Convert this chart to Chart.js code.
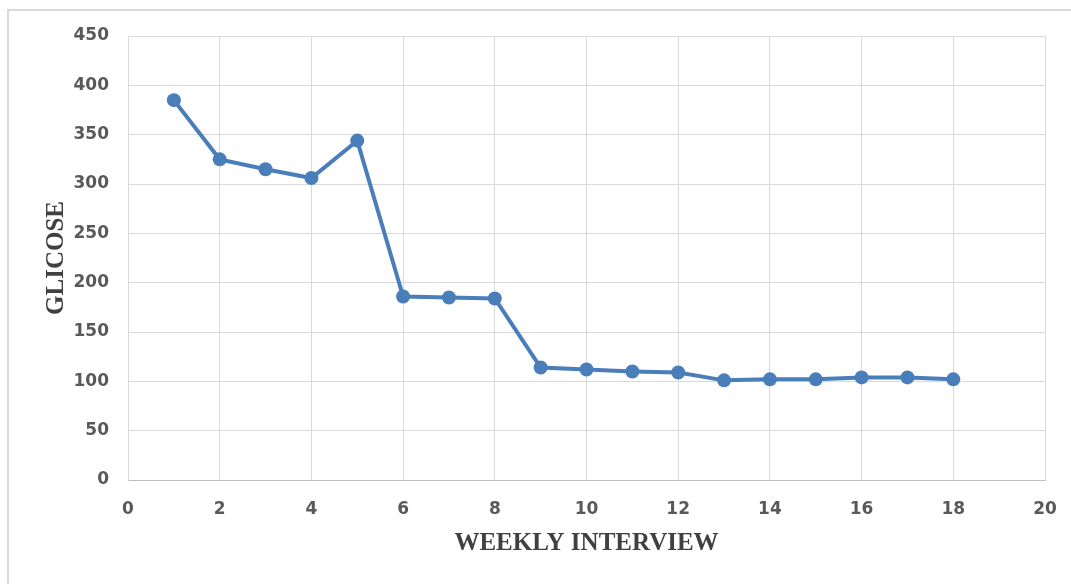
<!DOCTYPE html>
<html>
<head>
    <meta charset="utf-8">
    <title>Glicose by weekly interview</title>
    <script src="https://cdn.jsdelivr.net/npm/chart.js"></script>
    <style>
        html, body { margin: 0; padding: 0; background: #fff; }
        .wrap { position: relative; width: 1071px; height: 584px; }
        .frame {
            position: absolute; left: 7px; top: 9px; right: -5px; bottom: -5px;
            border-top: 2px solid #d9d9d9; border-left: 2px solid #d9d9d9;
        }
        canvas { position: absolute; left: 0; top: 0; }
    </style>
</head>
<body>
    <div class="wrap">
        <div class="frame"></div>
        <canvas id="glicoseChart" width="1071" height="584"></canvas>
    </div>
    <script>
        // weekly interview number and glicose reading
        const weeks = [1, 2, 3, 4, 5, 6, 7, 8, 9, 10, 11, 12, 13, 14, 15, 16, 17, 18];
        const glicose = [385, 325, 315, 306, 344, 186, 185, 184, 114, 112, 110, 109, 101, 102, 102, 104, 104, 102];
        const xTicks = [0, 2, 4, 6, 8, 10, 12, 14, 16, 18, 20];
        const yTicks = [0, 50, 100, 150, 200, 250, 300, 350, 400, 450];

        const points = weeks.map((w, i) => ({ x: w, y: glicose[i] }));
        const tickFont = { family: 'DejaVu Sans', size: 17, weight: 'bold' };
        const titleFont = { family: 'Liberation Serif', size: 25, weight: 'bold' };

        new Chart(document.getElementById('glicoseChart'), {
            type: 'line',
            data: {
                datasets: [{
                    data: points,
                    borderColor: '#4a7ebb',
                    backgroundColor: '#4a7ebb',
                    borderWidth: 4,
                    pointRadius: 7,
                    pointBorderWidth: 0,
                    tension: 0
                }]
            },
            options: {
                responsive: false,
                animation: false,
                layout: { padding: { top: 36, right: 26, left: 0, bottom: 0 } },
                plugins: { legend: { display: false }, tooltip: { enabled: false } },
                scales: {
                    x: {
                        type: 'linear',
                        min: 0,
                        max: 20,
                        afterBuildTicks: s => { s.ticks = xTicks.map(v => ({ value: v })); },
                        afterFit: s => { s.height = 104; s.paddingLeft = 0; s.paddingRight = 0; },
                        grid: { color: '#d9d9d9', lineWidth: 1, drawTicks: false },
                        border: { color: '#bfbfbf', width: 1 },
                        ticks: { color: '#595959', font: tickFont, padding: 19 },
                        title: {
                            display: true, text: 'WEEKLY INTERVIEW', color: '#404040',
                            font: titleFont, padding: { top: 0, bottom: 25 }
                        }
                    },
                    y: {
                        min: 0,
                        max: 450,
                        afterBuildTicks: s => { s.ticks = yTicks.map(v => ({ value: v })); },
                        afterFit: s => { s.width = 128; s.paddingTop = 0; s.paddingBottom = 0; },
                        grid: { color: '#d9d9d9', lineWidth: 1, drawTicks: false },
                        border: { color: '#d9d9d9', width: 1 },
                        ticks: { color: '#595959', font: tickFont, padding: 19 },
                        title: {
                            display: true, text: 'GLICOSE', color: '#404040',
                            font: titleFont, padding: { top: 42, bottom: 0 }
                        }
                    }
                }
            }
        });
    </script>
</body>
</html>
